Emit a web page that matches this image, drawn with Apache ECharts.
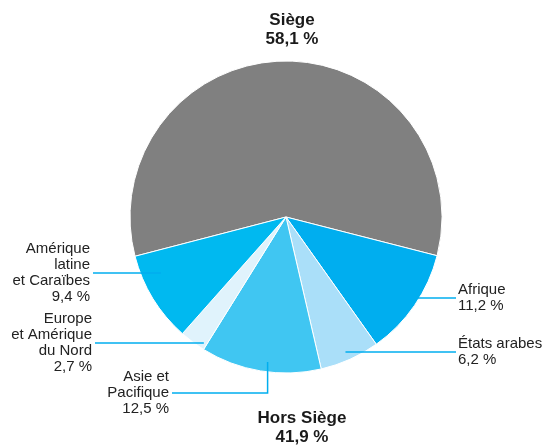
<!DOCTYPE html>
<html>
<head>
<meta charset="utf-8">
<script src="https://cdn.jsdelivr.net/npm/echarts@6/dist/echarts.min.js"></script>
<style>
    html, body { margin: 0; padding: 0; background: #fff; }
    #chart { width: 544px; height: 446px; }
</style>
</head>
<body>
<div id="chart"></div>
<script>
    // données
    var categories = ['Siège', 'Afrique', 'États arabes', 'Asie et\nPacifique', 'Europe\net Amérique\ndu Nord', 'Amérique\nlatine\net Caraïbes'];
    var values = [58.1, 11.2, 6.2, 12.5, 2.7, 9.4];
    var colors = ['#808080', '#00aeef', '#aadff9', '#40c6f2', '#e0f3fc', '#00b9f0'];

    var fmt = function (v) { return v.toFixed(1).replace('.', ',') + ' %'; };
    var horsSiege = 100 - values[0];

    var center = [286, 217];
    var radius = 156;
    // la part du siège est centrée en haut
    var startAngle = 90 + values[0] / 100 * 360 / 2;

    // placement des étiquettes : départ du trait (fraction du rayon), hauteur du trait, fin du trait
    var labelPlace = [
        null,
        { k: 0.82, y: 298, endX: 456, side: 'right' },
        { k: 0.93, y: 352, endX: 456, side: 'right' },
        { k: 0.72, y: 362, endX: 172, side: 'left', bendY: 393 },
        { k: 0.88, y: 343, endX: 95, side: 'left' },
        { k: 0.94, y: 273, endX: 93, side: 'left' }
    ];

    var pieData = function (withLabels) {
        return categories.map(function (c, i) {
            var d = { name: c, value: values[i] };
            if (withLabels) {
                d.itemStyle = { color: 'rgba(0,0,0,0)' };
                if (i === 0) {
                    d.label = { show: false };
                    d.labelLine = { show: false };
                }
            } else {
                d.itemStyle = { color: colors[i] };
            }
            return d;
        });
    };

    var myChart = echarts.init(document.getElementById('chart'));
    myChart.setOption({
        animation: false,
        textStyle: { fontFamily: 'Liberation Sans, Arial, sans-serif' },
        title: [
            {
                text: categories[0] + '\n' + fmt(values[0]),
                left: 287, top: 6, textAlign: 'center',
                textStyle: { fontSize: 17, fontWeight: 'bold', color: '#1a1a1a', lineHeight: 19 }
            },
            {
                text: 'Hors Siège\n' + fmt(horsSiege),
                left: 297, top: 404, textAlign: 'center',
                textStyle: { fontSize: 17, fontWeight: 'bold', color: '#1a1a1a', lineHeight: 19 }
            }
        ],
        series: [{
            type: 'pie',
            center: center,
            radius: radius,
            startAngle: startAngle,
            clockwise: true,
            silent: true,
            itemStyle: { borderColor: '#fff', borderWidth: 1 },
            label: { show: false },
            labelLine: { show: false },
            data: pieData(false)
        }, {
            // calque transparent qui porte les étiquettes et les traits au-dessus des secteurs
            type: 'pie',
            z: 3,
            center: center,
            radius: radius,
            startAngle: startAngle,
            clockwise: true,
            silent: true,
            avoidLabelOverlap: false,
            itemStyle: { borderWidth: 0 },
            label: {
                show: true,
                formatter: function (p) { return p.name + '\n' + fmt(p.value); },
                fontSize: 15,
                lineHeight: 16,
                color: '#222'
            },
            labelLine: {
                show: true,
                lineStyle: { color: '#00aeef', width: 1.5 }
            },
            labelLayout: function (p) {
                var lay = labelPlace[p.dataIndex];
                if (!lay) return {};
                var p0 = p.labelLinePoints[0];
                var s = [center[0] + (p0[0] - center[0]) * lay.k, lay.y];
                var pts, y;
                if (lay.bendY) {
                    pts = [s, [s[0], lay.bendY], [lay.endX, lay.bendY]];
                    y = lay.bendY;
                } else {
                    pts = [s, [(s[0] + lay.endX) / 2, s[1]], [lay.endX, s[1]]];
                    y = s[1];
                }
                return {
                    x: lay.side === 'right' ? lay.endX + 2 : lay.endX - 3,
                    y: y,
                    align: lay.side === 'right' ? 'left' : 'right',
                    verticalAlign: 'middle',
                    labelLinePoints: pts
                };
            },
            data: pieData(true)
        }]
    });
</script>
</body>
</html>
